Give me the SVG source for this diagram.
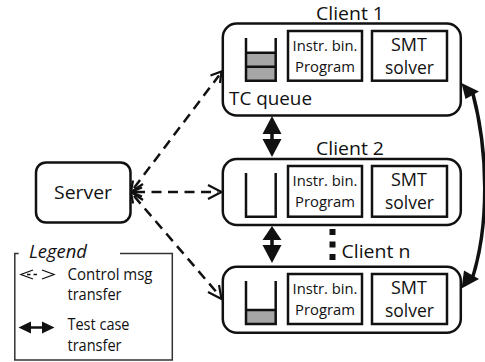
<svg xmlns="http://www.w3.org/2000/svg" width="485" height="362" viewBox="0 0 485 362">
<style>
text{font-family:"Open Sans","Lato","Liberation Sans",sans-serif;fill:#111;text-anchor:middle}
.box{fill:#fff;stroke:#111;stroke-width:2.5}
.q{fill:none;stroke:#111;stroke-width:2.5}
.g{fill:#a6a6a6;stroke:none}
.dash{fill:none;stroke:#111;stroke-width:2.5;stroke-dasharray:10 6.5}
.open{fill:none;stroke:#111;stroke-width:2.2}
.thick{fill:none;stroke:#111;stroke-width:3.5}
.t20{font-size:19px}.t15{font-size:15px}.t18{font-size:17.5px}.t16{font-size:16px}
.head{fill:#111;stroke:none}
</style>
<g id="connectors">
<path class="dash" d="M134 188L219 75.5"/>
<path class="dash" d="M135 192H218"/>
<path class="dash" d="M134 196L219 295"/>
<path class="open" d="M210.500 75.500L221.500 71.500L220 83M133 180.500L131 192L142 187.500"/>
<path class="open" d="M208 185L221.500 192L208 199M143 192L131 192"/>
<path class="open" d="M208 292L221.500 299L219 285M133 203.500L131 192L142 196.500"/>
<path class="open" d="M131 192L143 184M131 192L143 200"/>
<path class="thick" d="M272 130V143"/>
<path class="head" d="M272 116L281.500 134H262.500ZM272 157L262.500 139H281.500Z"/>
<path class="thick" d="M272 236V249"/>
<path class="head" d="M272 226L281.500 240H262.500ZM272 263L262.500 245H281.500Z"/>
<path class="thick" d="M472.500 92C488 150 490 225 471.500 281"/>
<path class="head" d="M461.500 83L479 91.500L465.500 99ZM461.500 288.500L464 270.500L479 279Z"/>
<path fill="none" stroke="#111" stroke-width="6" stroke-dasharray="6 6.500" d="M332.500 229V260"/>
</g>
<g id="server">
<rect class="box" x="36" y="162.500" width="94.500" height="60" rx="10"/>
<text class="t20" x="83" y="199" textLength="58" lengthAdjust="spacingAndGlyphs">Server</text>
</g>
<g id="client1">
<rect class="box" x="222.800" y="23.500" width="238" height="92" rx="14"/>
<path class="g" d="M246 52.700H275.700V80.700H246Z"/>
<path class="q" d="M246 38V80.700H275.700V38M246 52.700H275.700M246 66.700H275.700"/>
<rect class="box" x="288" y="31" width="74" height="49.700"/>
<rect class="box" x="372" y="31" width="75" height="49.700"/>
<text class="t20" x="350" y="20" textLength="68" lengthAdjust="spacingAndGlyphs">Client 1</text>
<text class="t20" x="270.500" y="105" textLength="83" lengthAdjust="spacingAndGlyphs">TC queue</text>
<text class="t15" x="325" y="51" textLength="65" lengthAdjust="spacingAndGlyphs">Instr. bin.</text>
<text class="t15" x="325" y="71.700" textLength="60" lengthAdjust="spacingAndGlyphs">Program</text>
<text class="t18" x="409" y="51" textLength="36" lengthAdjust="spacingAndGlyphs">SMT</text>
<text class="t18" x="409.500" y="74" textLength="49" lengthAdjust="spacingAndGlyphs">solver</text>
</g>
<g id="client2">
<rect class="box" x="222.800" y="159" width="238" height="66" rx="14"/>
<path class="q" d="M246 173V216.700H275.700V173"/>
<rect class="box" x="288" y="166" width="74" height="50.700"/>
<rect class="box" x="372" y="166" width="75" height="50.700"/>
<text class="t20" x="350" y="155" textLength="68" lengthAdjust="spacingAndGlyphs">Client 2</text>
<text class="t15" x="325" y="186" textLength="65" lengthAdjust="spacingAndGlyphs">Instr. bin.</text>
<text class="t15" x="325" y="207" textLength="60" lengthAdjust="spacingAndGlyphs">Program</text>
<text class="t18" x="409" y="186" textLength="36" lengthAdjust="spacingAndGlyphs">SMT</text>
<text class="t18" x="409.500" y="209" textLength="49" lengthAdjust="spacingAndGlyphs">solver</text>
</g>
<g id="clientn">
<text class="t20" x="376" y="258" textLength="69" lengthAdjust="spacingAndGlyphs">Client n</text>
<rect class="box" x="222.800" y="266.800" width="238" height="66" rx="14"/>
<path class="g" d="M246 310H275.700V324H246Z"/>
<path class="q" d="M246 281V324H275.700V281M246 310H275.700"/>
<rect class="box" x="288" y="274" width="74" height="50"/>
<rect class="box" x="372" y="274" width="75" height="50"/>
<text class="t15" x="325" y="294" textLength="65" lengthAdjust="spacingAndGlyphs">Instr. bin.</text>
<text class="t15" x="325" y="315" textLength="60" lengthAdjust="spacingAndGlyphs">Program</text>
<text class="t18" x="409" y="294" textLength="36" lengthAdjust="spacingAndGlyphs">SMT</text>
<text class="t18" x="409.500" y="317" textLength="49" lengthAdjust="spacingAndGlyphs">solver</text>
</g>
<g id="legend">
<path fill="none" stroke="#333" stroke-width="1.500" d="M18.700 253.500H14.800V360H172.300V253.500H120"/>
<text class="t18" x="58" y="258" font-style="italic" textLength="58" lengthAdjust="spacingAndGlyphs">Legend</text>
<path fill="none" stroke="#111" stroke-width="1.300" d="M33 270L21 274.500L33 279M42 270L54 274.500L42 279"/>
<path fill="none" stroke="#111" stroke-width="1.300" stroke-dasharray="3.500 3" d="M27 274.500H38"/>
<path fill="none" stroke="#111" stroke-width="2.500" d="M30 327.500H44"/>
<path class="head" d="M18.500 327.500L31 321.500V333.500ZM54.500 327.500L42 321.500V333.500Z"/>
<text class="t16" x="110" y="279.500" textLength="85" lengthAdjust="spacingAndGlyphs">Control msg</text>
<text class="t16" x="94.500" y="299.500" textLength="54" lengthAdjust="spacingAndGlyphs">transfer</text>
<text class="t16" x="98.500" y="330" textLength="62" lengthAdjust="spacingAndGlyphs">Test case</text>
<text class="t16" x="94.500" y="351" textLength="54" lengthAdjust="spacingAndGlyphs">transfer</text>
</g>
</svg>
